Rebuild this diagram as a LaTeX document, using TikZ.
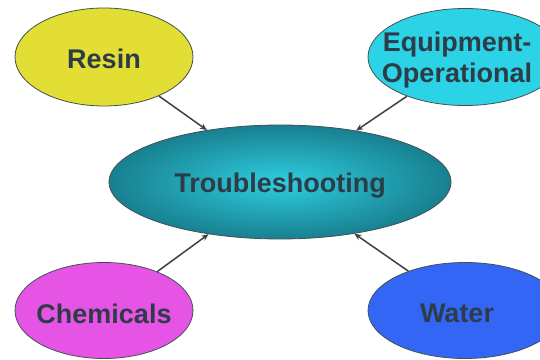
\documentclass[tikz,border=0pt]{standalone}
\usepackage{fontspec}
\setmainfont{Liberation Sans}
\usetikzlibrary{shapes.geometric,arrows.meta}
\definecolor{txtcol}{RGB}{46,60,72}
\definecolor{edgecol}{RGB}{70,80,84}
\definecolor{resincol}{RGB}{226,222,52}
\definecolor{equipcol}{RGB}{44,210,230}
\definecolor{chemcol}{RGB}{230,84,230}
\definecolor{watercol}{RGB}{52,102,245}
\definecolor{troubout}{RGB}{24,128,144}
\definecolor{troubin}{RGB}{46,206,224}
\definecolor{arrcol}{RGB}{58,66,70}
\tikzset{
  blob/.style={ellipse, draw=edgecol, line width=0.8pt, inner sep=0pt},
  lbl/.style={text=txtcol, font=\fontsize{27}{31}\selectfont\bfseries, align=center, inner sep=0pt},
  conn/.style={draw=arrcol, line width=1.5pt, -{Stealth[length=7pt,width=6pt]}}
}
\begin{document}
\begin{tikzpicture}[x=1pt,y=1pt]
\useasboundingbox (0,0) rectangle (540,359);
\clip (0,0) rectangle (540,359);
\fill[white] (0,0) rectangle (540,359);
% ellipses
\node[blob, fill=resincol, minimum width=178pt, minimum height=98pt] (resin) at (104,302) {};
\node[blob, fill=equipcol, minimum width=194pt, minimum height=97pt] (equip) at (465,302) {};
\node[blob, fill=chemcol, minimum width=178pt, minimum height=96pt] (chem) at (104,48.5) {};
\node[blob, fill=watercol, minimum width=194pt, minimum height=96pt] (water) at (465,48.5) {};
\node[blob, shading=radial, inner color=troubin, outer color=troubout, minimum width=342pt, minimum height=114pt] (troub) at (280,177) {};
% labels
\node[lbl] (tresin) at ([yshift=-2pt]resin.center) {Resin};
\node[lbl] (tequip) at (457,299) {Equipment-\\Operational};
\node[lbl] (tchem) at ([yshift=-3pt]chem.center) {Chemicals};
\node[lbl] (twater) at (457,45.5) {Water};
\node[lbl] (ttroub) at ([yshift=-4pt]troub.center) {Troubleshooting};
% connectors
\draw[conn] (resin) -- (troub);
\draw[conn] (equip) -- (troub);
\draw[conn] (chem) -- (troub);
\draw[conn] (water) -- (troub);
\end{tikzpicture}
\end{document}
